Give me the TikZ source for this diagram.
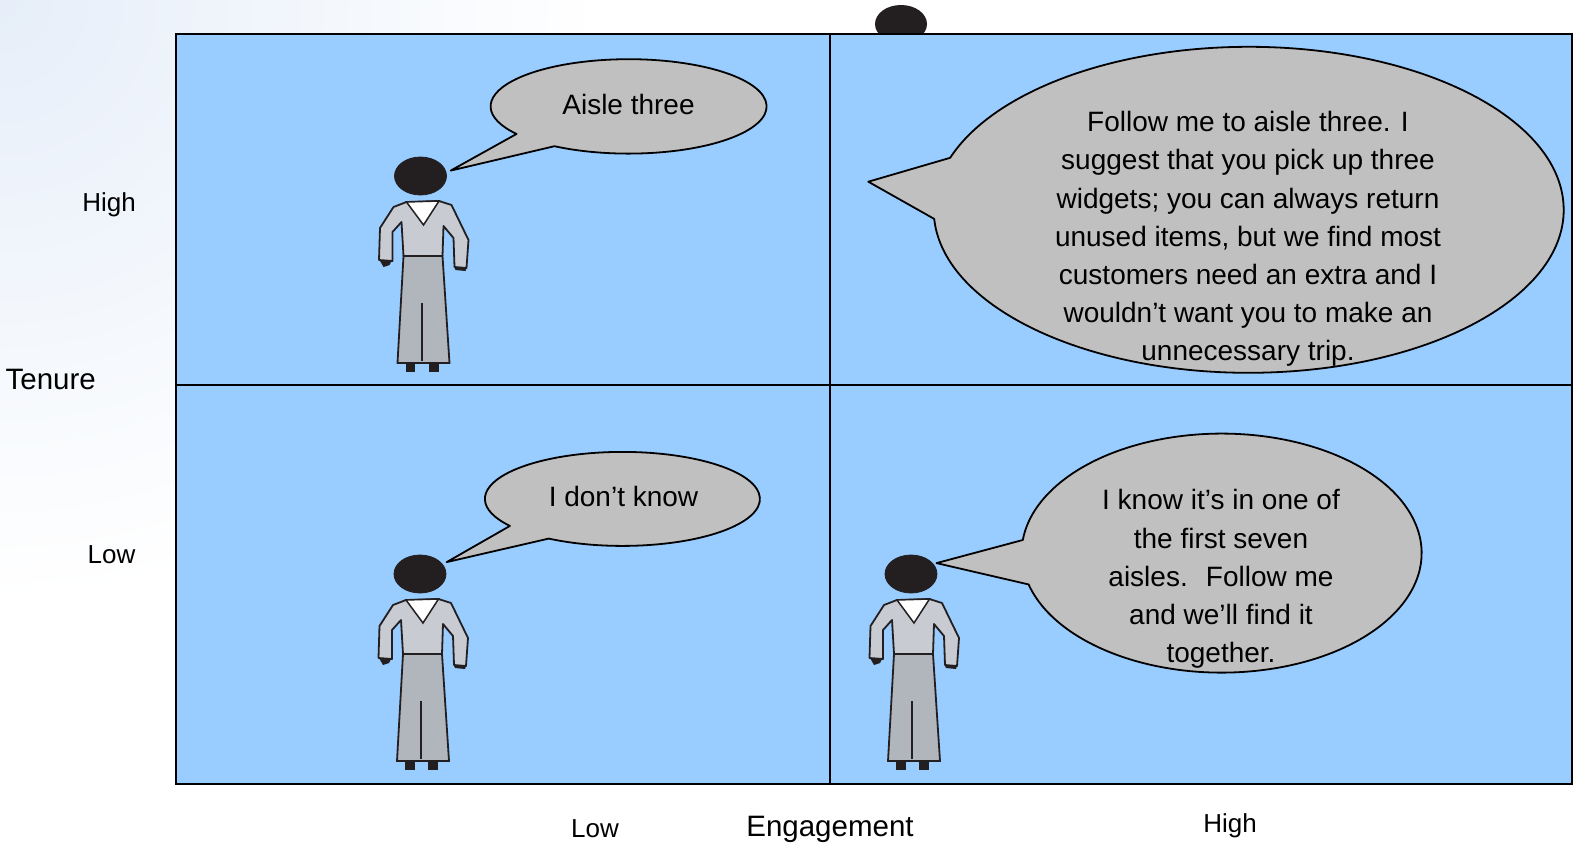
\documentclass[tikz,border=0pt]{standalone}
\usepackage{fontspec}
\setmainfont{Liberation Sans}
\usepackage{xcolor}
\definecolor{quadblue}{RGB}{153,204,255}
\definecolor{bubblegray}{RGB}{192,192,192}
\definecolor{shirtgray}{RGB}{200,203,210}
\definecolor{skirtgray}{RGB}{177,181,188}
\definecolor{headblack}{RGB}{35,31,32}
\definecolor{cornerblue}{RGB}{230,238,249}
\usetikzlibrary{calc}

% speech bubble: name, centre, x/y radius, arc from/to angle, tail tip
\newcommand{\speechbubble}[7]{%
  \coordinate (#1) at #2;
  \coordinate (#1tip) at #7;
  \filldraw[bubble] ($(#1)+(#5:#3 and #4)$)
    arc[start angle=#5, end angle=#6, x radius=#3, y radius=#4]
    -- (#1tip) -- cycle;
}

\tikzset{
  clerk/.pic={
    % head
    \filldraw[headblack, line width=0.8pt] (0,0) ellipse [x radius=26, y radius=19];
    % skirt and feet
    \fill[headblack] (-15,186) rectangle (-5.5,196);
    \fill[headblack] (8,186) rectangle (18,196);
    \filldraw[fill=skirtgray, draw=headblack, line width=1.8pt]
      (-17,80) -- (22,80) -- (29,187) -- (-23,187) -- cycle;
    \draw[headblack, line width=1.8pt] (1.2,127) -- (1.2,185);
    % hands
    \fill[headblack] (-41,84) -- (-29,85) -- (-31,89) -- (-37,91) -- cycle;
    \fill[headblack] (33,90) -- (46,92) -- (45,95) -- (35,94) -- cycle;
    % blouse
    \filldraw[fill=shirtgray, draw=headblack, line width=1.8pt, line join=round]
      (-27,31) -- (-14,26) -- (18.5,25) -- (31,29) -- (48,64) -- (46,92)
      -- (34,91) -- (33,62) -- (23,50) -- (22,80) -- (-17,80) -- (-19,46)
      -- (-28,56) -- (-28,85) -- (-41.5,84) -- (-40.5,52) -- cycle;
    \filldraw[fill=white, draw=headblack, line width=1.5pt]
      (-14,26) -- (18.5,25) -- (3,49) -- cycle;
  }
}

\begin{document}
\begin{tikzpicture}[
  x=1pt, y=-1pt,
  quad/.style={draw=black, fill=quadblue, line width=2pt},
  divider/.style={draw=black, line width=2pt},
  bubble/.style={draw=black, fill=bubblegray, line width=1.8pt, line join=round},
  saying/.style={font=\fontsize{28}{38.2}\selectfont, align=center, inner sep=0pt},
  axislabel/.style={font=\fontsize{26}{30}\selectfont, inner sep=0pt, anchor=base},
  axistitle/.style={font=\fontsize{29.5}{34}\selectfont, inner sep=0pt, anchor=base}
]
\useasboundingbox (0,0) rectangle (1574,844);

% page background
\begin{scope}
  \clip (0,0) rectangle (1574,844);
  \fill[white] (0,0) rectangle (1574,844);
  \shade[inner color=cornerblue, outer color=white] (0,0) circle (600);
\end{scope}

% head peeking over the top edge
\fill[headblack] (901,24) ellipse [x radius=26, y radius=19];

% quadrants
\coordinate (nw) at (175.7,34);
\coordinate (se) at (1572,784);
\coordinate (midtop) at (830,34);
\coordinate (midbot) at (830,784);
\coordinate (midleft) at (175.7,384.5);
\coordinate (midright) at (1572,384.5);
\draw[quad] (nw) rectangle (se);
\draw[divider] (midtop) -- (midbot);
\draw[divider] (midleft) -- (midright);

% clerks
\pic at (420.5,176) {clerk};
\pic at (420,574) {clerk};
\pic at (911,574) {clerk};

% bubbles
\speechbubble{aisle}{(628.6,106.4)}{138}{47.2}{122.5}{-215.7}{(450.7,170.6)}
\speechbubble{follow}{(1248.7,209.8)}{315}{163}{176.8}{-161.4}{(868.3,181.7)}
\speechbubble{dunno}{(622.4,498.9)}{137.5}{47}{122.4}{-215.1}{(446.7,562.1)}
\speechbubble{seven}{(1221.6,553.1)}{200}{119.5}{164.8}{-173.7}{(936.5,563.1)}

\node[saying, anchor=base] (aisletxt) at (628.5,114) {Aisle three};
\node[saying] (followtxt) at (1248,239) {Follow me to aisle three. I\\suggest that you pick up three\\widgets; you can always return\\unused items, but we find most\\customers need an extra and I\\wouldn’t want you to make an\\unnecessary trip.};
\node[saying, anchor=base] (dunnotxt) at (623.5,506) {I don’t know};
\node[saying] (seventxt) at (1221,579) {I know it’s in one of\\the first seven\\aisles.~ Follow me\\and we’ll find it\\together.};

% axes
\node[axislabel] (tenhigh) at (109,211) {High};
\node[axislabel] (tenlow) at (111.5,563) {Low};
\node[axistitle] (tenure) at (50.7,389) {Tenure};
\node[axislabel] (englow) at (595,837) {Low};
\node[axistitle] (engage) at (830,836) {Engagement};
\node[axislabel] (enghigh) at (1230,832) {High};
\end{tikzpicture}
\end{document}
